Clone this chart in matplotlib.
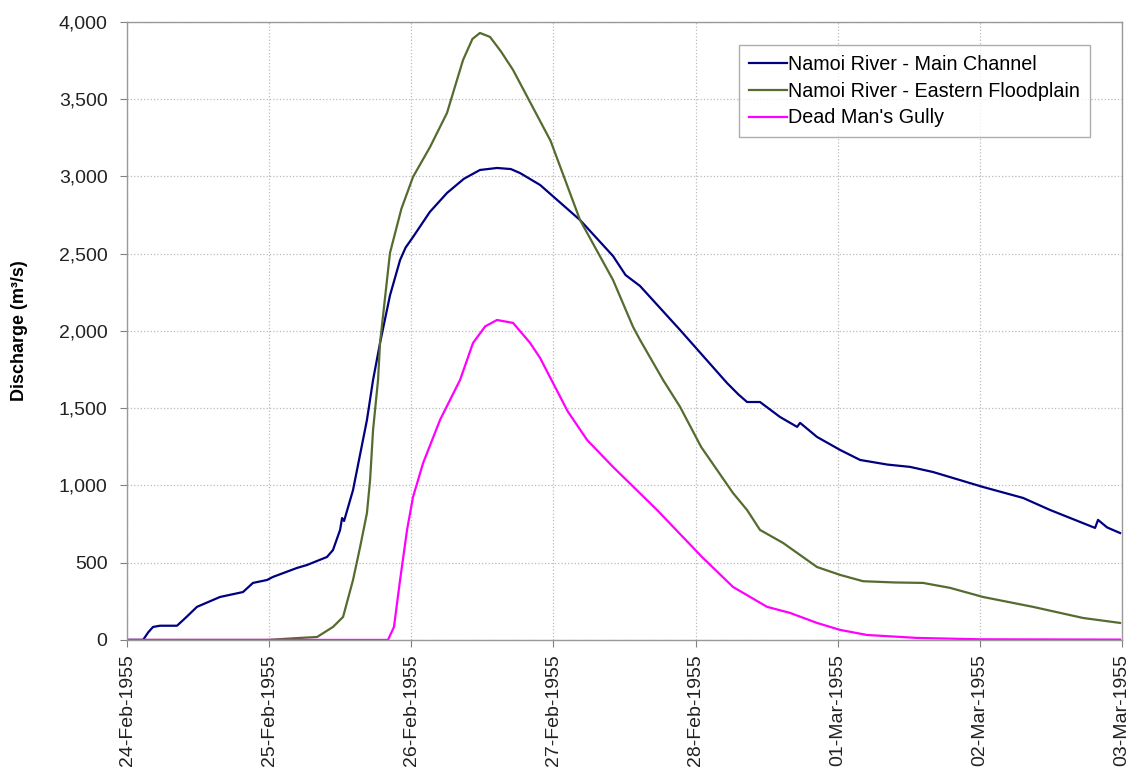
import datetime as dt
import matplotlib
matplotlib.use("Agg")
import matplotlib.pyplot as plt
import matplotlib.dates as mdates
from matplotlib.ticker import FuncFormatter, MultipleLocator

# --- Datos (días desde 24-Feb-1955 00:00, caudal en m3/s) ---
main_dias = [0.0, 0.113, 0.150, 0.183, 0.232, 0.352, 0.420, 0.492, 0.654, 0.816,
             0.886, 0.985, 1.027, 1.196, 1.266, 1.407, 1.449, 1.499, 1.513, 1.527,
             1.590, 1.688, 1.731, 1.780, 1.850, 1.921, 1.960, 2.012, 2.130, 2.251,
             2.370, 2.483, 2.603, 2.700, 2.765, 2.906, 3.187, 3.419, 3.507, 3.609,
             3.891, 4.221, 4.300, 4.362, 4.453, 4.594, 4.714, 4.735, 4.854, 5.016,
             5.157, 5.350, 5.509, 5.670, 6.022, 6.304, 6.494, 6.810, 6.831, 6.895,
             6.986]
main_q = [0, 0, 50, 84, 92, 92, 150, 214, 278, 310,
          369, 388, 408, 466, 485, 537, 582, 712, 789, 770,
          970, 1424, 1683, 1922, 2230, 2459, 2540, 2608, 2770, 2893,
          2985, 3042, 3055, 3048, 3022, 2945, 2718, 2485, 2362, 2291,
          2006, 1663, 1590, 1540, 1540, 1443, 1379, 1405, 1314, 1230,
          1165, 1135, 1120, 1087, 990, 919, 841, 725, 777, 728,
          692]

llanura_dias = [0.0, 0.985, 1.217, 1.337, 1.449, 1.520, 1.590, 1.640, 1.688, 1.710,
                1.731, 1.766, 1.780, 1.850, 1.930, 2.012, 2.132, 2.251, 2.364, 2.430,
                2.483, 2.554, 2.630, 2.716, 2.980, 3.187, 3.419, 3.560, 3.609, 3.771,
                3.891, 4.039, 4.263, 4.362, 4.453, 4.615, 4.854, 5.016, 5.178, 5.400,
                5.600, 5.790, 6.022, 6.374, 6.726, 6.986]
llanura_q = [0, 0, 13, 19, 84, 149, 388, 602, 822, 1035,
             1359, 1683, 1922, 2505, 2790, 2997, 3191, 3411, 3754, 3890,
             3929, 3903, 3810, 3689, 3230, 2718, 2330, 2026, 1942, 1683,
             1508, 1249, 951, 841, 712, 628, 472, 421, 380, 372,
             369, 337, 278, 214, 142, 110]

gully_dias = [0.0, 1.836, 1.878, 1.921, 1.970, 2.012, 2.083, 2.202, 2.343, 2.434,
              2.520, 2.603, 2.716, 2.836, 2.906, 3.100, 3.237, 3.419, 3.729, 4.045,
              4.263, 4.503, 4.664, 4.854, 5.016, 5.206, 5.558, 6.000, 6.986]
gully_q = [0, 0, 84, 388, 712, 925, 1145, 1424, 1683, 1922,
           2030, 2071, 2052, 1922, 1825, 1480, 1294, 1120, 841, 537,
           343, 214, 175, 110, 65, 32, 13, 4, 2]

series = [
    ("Namoi River - Main Channel", main_dias, main_q, "#000080"),
    ("Namoi River - Eastern Floodplain", llanura_dias, llanura_q, "#556B2F"),
    ("Dead Man's Gully", gully_dias, gully_q, "#FF00FF"),
]

inicio = dt.datetime(1955, 2, 24)

plt.rcParams['font.family'] = ['Liberation Sans', 'DejaVu Sans']

fig = plt.figure(figsize=(11.38, 7.71), dpi=100)
ax = fig.add_axes([0.1116, 0.170, 0.8744, 0.8015])

for nombre, dias, q, color in series:
    fechas = [inicio + dt.timedelta(days=d) for d in dias]
    ax.plot(fechas, q, color=color, linewidth=1.6, label=nombre,
            solid_joinstyle='round')

ax.set_xlim(inicio, inicio + dt.timedelta(days=7))
ax.set_ylim(0, 4000)
ax.yaxis.set_major_locator(MultipleLocator(500))
ax.yaxis.set_major_formatter(FuncFormatter(lambda v, p: f"{int(v):,}"))
ax.xaxis.set_major_locator(mdates.DayLocator())
ax.xaxis.set_major_formatter(mdates.DateFormatter('%d-%b-%Y'))

ax.tick_params(axis='both', labelsize=14, labelcolor='#222222', color='#808080',
               length=5, width=0.8)
ax.tick_params(axis='y', pad=9)
ax.tick_params(axis='x', labelrotation=90, pad=5)

ax.grid(True, color='#bbbbbb', linestyle=':', linewidth=0.9)
ax.set_axisbelow(True)
for s in ax.spines.values():
    s.set_color('#999999')
    s.set_linewidth(1.0)

ax.set_ylabel('Discharge (m³/s)', fontsize=13, fontweight='bold', labelpad=22)

leg = ax.legend(loc='upper right', bbox_to_anchor=(0.968, 0.963), fontsize=14.2,
                frameon=True, fancybox=False, handlelength=1.9, handletextpad=0.1,
                borderpad=0.5, labelspacing=0.4, borderaxespad=0)
leg.get_frame().set_edgecolor('#999999')
leg.get_frame().set_linewidth(1.0)

plt.savefig('out.png', dpi=100)
